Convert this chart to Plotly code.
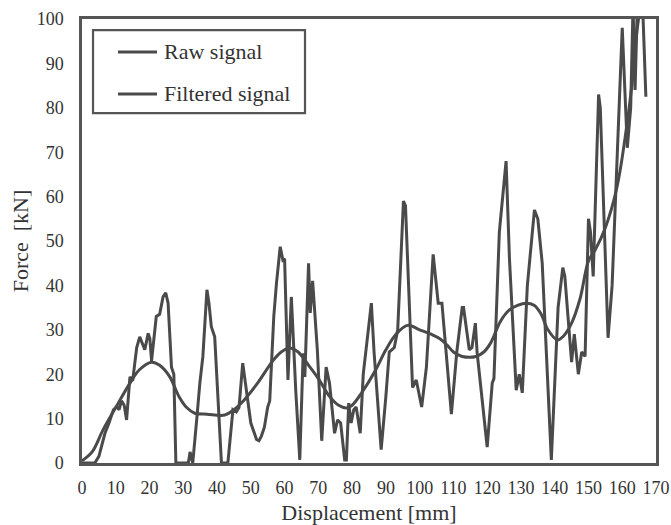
import plotly.graph_objects as go

raw_x = [0, 3.8, 5, 6.8, 8, 9.3, 10.3, 11, 11.7, 12.5, 13.2, 14.2, 15, 16.2, 17.1, 17.8, 18.6, 19.6, 20.1, 20.6,
         22, 23, 24, 24.8, 25.5, 26.5, 27.2, 27.8, 31.5, 32, 32.8, 34, 34.9, 35.8, 37, 37.6, 38.3, 39.3, 40.3, 41.3,
         43.2, 44.7, 45.7, 46.5, 47.6, 48.7, 50, 51.7, 52.4, 53.1, 54, 55, 55.6, 56.8, 57.6, 58.7, 59.5, 60, 61, 62,
         63.3, 64.5, 65.5, 66, 67.1, 67.6, 68.3, 69.7, 71, 72.3, 73.3, 74.8, 75.7, 76.6, 77.8, 78.3, 79, 79.7, 80.5, 81.2,
         82.4, 83.3, 84.2, 84.6, 85.7, 86.5, 88.6, 90, 91, 92.5, 93.5, 95.2, 95.8, 97.9, 99, 100.6, 102, 104, 105.5, 106.6,
         109.4, 111, 112.6, 113, 114.7, 115.5, 116.5, 117, 120, 121.5, 122, 123.6, 125.6, 126.6, 128.6, 129.5, 130.4, 131.9, 134, 135,
         136.3, 139, 141, 142.4, 143, 145, 145.8, 147, 148, 149, 150, 150.6, 151.4, 153, 153.5, 155.8, 157, 160, 161.5, 162.5,
         163.2, 163.8, 164.5, 166, 167]
raw_y = [0, 0, 1.5, 6.7, 9, 12, 12.7, 12, 14, 13, 9.7, 19.4, 18.5, 26, 28.4, 27, 25.5, 29.2, 28, 23,
         33, 33.5, 37.4, 38.3, 36, 21.6, 20, 0, 0, 2.5, 0, 10, 18, 24, 39, 36, 30.7, 28.4, 14, 0,
         0, 12, 11.5, 12.5, 22.5, 16.4, 9, 5.3, 5, 6, 8, 12.6, 14, 33, 40.5, 48.7, 45.7, 46, 18.7, 37.4,
         16.4, 0.7, 24.7, 19.4, 45, 33.8, 41, 25.5, 5, 21.6, 18, 6.7, 9.7, 9, 0.7, 0.7, 13.5, 9, 12, 12.6,
         6.7, 20, 26, 27.7, 36, 25, 3, 15, 25, 26, 30, 59, 58, 17, 18.7, 12.6, 21.6, 47, 36, 36,
         11, 25, 35, 35, 25.5, 26, 31.5, 25, 3.6, 18, 19, 52, 68, 46, 16.4, 20, 15.8, 40, 57, 55,
         45, 0.7, 35, 44, 42, 22.7, 29, 20, 25, 24, 55, 52, 42, 83, 80, 28.2, 40, 98, 71, 80,
         103, 84, 104, 104, 82.5]

filt_x = [0, 3, 6.2, 10, 14.2, 17, 20.6, 23, 26, 28.7, 31, 33.4, 37, 42.3, 45, 47.2, 52, 56.5, 59, 61.5,
          64, 67.4, 70, 73.3, 76, 78.3, 80, 83, 87, 90, 93, 96.4, 100, 103.4, 106, 108.2, 110, 112.6, 116.7, 119,
          121, 124, 126.6, 129, 131.5, 134, 136, 138, 140.8, 142.5, 145, 147.5, 150, 152, 155, 158.4, 160.8, 163, 164.4, 165.2]
filt_y = [0.5, 2.5, 7.4, 12.5, 18, 21, 22.7, 22, 19.4, 15, 12.5, 11.2, 11, 10.8, 12, 13.5, 18, 23, 25, 25.9,
          25, 21.7, 19, 15, 13, 12.4, 13, 16, 21, 25.5, 29, 31, 30, 29, 28, 26.5, 25, 24, 24, 25,
          27, 32, 34.5, 35.5, 36, 35.5, 33.5, 30, 27.7, 28.5, 31.5, 37, 45.5, 48, 53, 62, 73, 86, 97.5, 102]

series_names = ["Raw signal", "Filtered signal"]
x_ticks = list(range(0, 171, 10))
y_ticks = list(range(0, 101, 10))

LINE = "#4a4a4a"
FRAME = "#555555"
TXT = "#333333"
FONT = "Liberation Serif, Times New Roman, serif"

fig = go.Figure()
fig.add_trace(go.Scatter(x=raw_x, y=raw_y, mode="lines", name=series_names[0],
                         line=dict(color=LINE, width=3), showlegend=False))
fig.add_trace(go.Scatter(x=filt_x, y=filt_y, mode="lines", name=series_names[1],
                         line=dict(color=LINE, width=3, shape="spline", smoothing=1.0), showlegend=False))

# Legend drawn in paper coordinates (box, line samples, labels)
fig.add_shape(type="rect", xref="paper", yref="paper", x0=0.0192, x1=0.3885, y0=0.788, y1=0.975,
              line=dict(color=FRAME, width=2.2), fillcolor="white", layer="above")
row_y = [0.9257, 0.8311]
for name, yy in zip(series_names, row_y):
    fig.add_shape(type="line", xref="paper", yref="paper", x0=0.0627, x1=0.1307, y0=yy, y1=yy,
                  line=dict(color=LINE, width=2.8), layer="above")
    fig.add_annotation(xref="paper", yref="paper", x=0.1394, y=yy, text=name, showarrow=False,
                       xanchor="left", yanchor="middle", font=dict(size=22, family=FONT, color=TXT))

fig.update_layout(
    width=671, height=525,
    margin=dict(l=82, r=15, t=19, b=62),
    paper_bgcolor="white", plot_bgcolor="white",
    font=dict(family=FONT, color=TXT, size=18),
    showlegend=False,
)
fig.update_xaxes(range=[0, 170], tickvals=x_ticks, showgrid=False, zeroline=False, automargin=False,
                 showline=True, linecolor=FRAME, linewidth=2.5, mirror=True, ticks="",
                 tickfont=dict(size=18), ticklabelstandoff=7,
                 title=dict(text="Displacement [mm]", font=dict(size=22), standoff=9))
fig.update_yaxes(range=[0, 100], tickvals=y_ticks, showgrid=False, zeroline=False, automargin=False,
                 showline=True, linecolor=FRAME, linewidth=2.5, mirror=True, ticks="",
                 tickfont=dict(size=18), ticklabelstandoff=12,
                 title=dict(text="Force  [kN]", font=dict(size=22), standoff=2))

fig.write_html("out.html")
